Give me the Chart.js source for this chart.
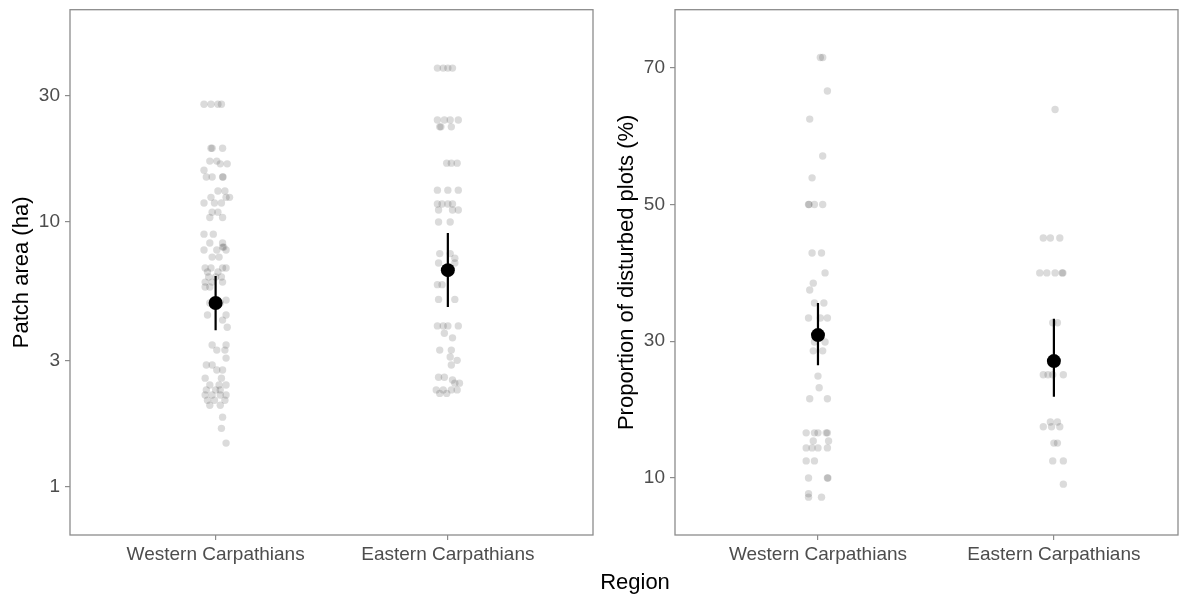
<!DOCTYPE html>
<html>
<head>
<meta charset="utf-8">
<script src="https://cdn.jsdelivr.net/npm/chart.js@4.4.1/dist/chart.umd.min.js"></script>
<style>
  body { margin: 0; background: #fff; width: 1187px; height: 599px; overflow: hidden; position: relative; font-family: "Liberation Sans", Arial, sans-serif; }
  canvas { position: absolute; top: 0; }
  #area { left: 0; }
  #prop { left: 600px; }
  #xlab { position: absolute; left: 635px; top: 569px; transform: translateX(-50%); font-size: 22px; color: #000; }
</style>
</head>
<body>
<canvas id="area" width="600" height="599"></canvas>
<canvas id="prop" width="587" height="599"></canvas>
<div id="xlab">Region</div>
<script>
const regions = ["Western Carpathians", "Eastern Carpathians"];
const areaTicks = [1, 3, 10, 30];
const propTicks = [10, 30, 50, 70];

// single patches: [jitter from category centre, value]
const areaWest = [
  [-0.05, 27.9], [-0.02, 27.9], [0.01, 27.9], [0.025, 27.9],
  [-0.02, 19.0], [-0.015, 19.0], [0.03, 19.0],
  [-0.025, 17.0], [0.005, 17.0], [0.02, 16.6], [0.05, 16.6],
  [-0.05, 15.7],
  [-0.04, 14.8], [-0.015, 14.8], [0.03, 14.8], [0.032, 14.8],
  [0.01, 13.1], [0.04, 13.1],
  [-0.02, 12.4], [0.045, 12.4], [0.06, 12.4],
  [-0.05, 11.8], [-0.005, 11.8], [0.025, 11.8],
  [-0.015, 10.9], [0.01, 10.9],
  [-0.025, 10.4], [0.03, 10.4],
  [-0.05, 9.0], [-0.01, 9.0],
  [-0.025, 8.33], [0.03, 8.33],
  [0.03, 8.04], [0.035, 8.04],
  [-0.05, 7.84], [0.005, 7.84], [0.045, 7.84],
  [-0.015, 7.37], [0.015, 7.37],
  [-0.045, 6.7], [-0.02, 6.7], [0.03, 6.7], [0.045, 6.7],
  [-0.035, 6.47], [0.01, 6.47],
  [-0.03, 6.2], [0.0, 6.2], [0.025, 6.2],
  [-0.045, 5.93], [-0.015, 5.93], [0.03, 5.93],
  [-0.045, 5.68], [-0.025, 5.68],
  [0.045, 5.07], [-0.025, 4.94], [0.02, 4.94],
  [-0.035, 4.45], [0.045, 4.45],
  [0.03, 4.26], [0.05, 4.0],
  [-0.015, 3.43], [0.045, 3.43],
  [0.005, 3.28], [0.04, 3.28],
  [0.045, 3.06],
  [-0.04, 2.88], [-0.015, 2.88],
  [0.005, 2.76], [0.03, 2.76],
  [-0.045, 2.57], [0.025, 2.57],
  [-0.025, 2.42], [0.015, 2.42], [0.045, 2.42],
  [0.0, 2.32], [0.02, 2.32], [-0.04, 2.32],
  [-0.045, 2.22], [-0.015, 2.22], [0.045, 2.22], [0.02, 2.22],
  [-0.035, 2.12], [-0.005, 2.12], [0.04, 2.12],
  [-0.025, 2.03], [0.02, 2.03],
  [0.03, 1.83], [0.025, 1.66], [0.045, 1.46]
];
const areaEast = [
  [-0.045, 38.2], [-0.02, 38.2], [0.0, 38.2], [0.02, 38.2],
  [-0.045, 24.3], [-0.015, 24.3], [0.01, 24.3], [0.045, 24.3],
  [-0.035, 22.9], [-0.03, 22.9], [0.015, 22.9],
  [-0.005, 16.7], [0.015, 16.7], [0.04, 16.7],
  [-0.045, 13.2], [0.0, 13.2], [0.045, 13.2],
  [-0.045, 11.7], [-0.025, 11.7], [0.0, 11.7], [0.02, 11.7],
  [-0.04, 11.1], [0.02, 11.1], [0.045, 11.1],
  [-0.04, 10.0], [0.01, 10.0],
  [-0.035, 7.6], [0.01, 7.6], [0.03, 7.3],
  [-0.04, 7.0], [0.03, 7.0],
  [-0.045, 5.8], [-0.025, 5.8],
  [-0.04, 5.1], [0.03, 5.1],
  [-0.045, 4.05], [-0.02, 4.05], [0.0, 4.05], [0.045, 4.05],
  [-0.015, 3.8], [0.02, 3.65],
  [-0.035, 3.28], [0.015, 3.28],
  [0.01, 3.09], [0.04, 3.0], [0.015, 2.88],
  [-0.04, 2.59], [-0.015, 2.59], [0.02, 2.53],
  [0.03, 2.46], [0.05, 2.46],
  [-0.05, 2.32], [-0.02, 2.32], [0.015, 2.32], [0.04, 2.32],
  [-0.035, 2.25], [-0.005, 2.25]
];
const propWest = [
  [0.01, 71.5], [0.02, 71.5], [0.04, 66.6], [-0.035, 62.5],
  [0.02, 57.1], [-0.025, 53.9],
  [-0.04, 50.0], [-0.038, 50.0], [-0.015, 50.0], [0.02, 50.0],
  [-0.025, 42.9], [0.015, 42.9], [0.03, 40.0],
  [-0.02, 38.5], [-0.035, 37.5],
  [-0.015, 35.6], [0.025, 35.6],
  [-0.04, 33.4], [0.01, 33.4], [0.04, 33.4],
  [-0.015, 29.9], [0.03, 29.9],
  [-0.02, 28.6], [0.02, 28.6],
  [0.0, 24.9], [0.005, 23.2],
  [-0.035, 21.6], [0.04, 21.6],
  [-0.05, 16.6], [-0.015, 16.6], [0.0, 16.6], [0.035, 16.6], [0.04, 16.6],
  [-0.02, 15.4], [0.045, 15.4],
  [-0.05, 14.4], [-0.025, 14.4], [0.0, 14.4], [0.04, 14.4],
  [-0.05, 12.5], [-0.015, 12.5],
  [-0.04, 10.0], [0.04, 10.0], [0.042, 10.0],
  [-0.04, 7.7], [-0.04, 7.2], [0.015, 7.2]
];
const propEast = [
  [0.005, 63.9],
  [-0.045, 45.1], [-0.015, 45.1], [0.025, 45.1],
  [-0.06, 40.0], [-0.03, 40.0], [0.005, 40.0], [0.035, 40.0], [0.038, 40.0],
  [-0.005, 32.7], [0.015, 32.7],
  [-0.045, 25.1], [-0.025, 25.1], [-0.005, 25.1], [0.04, 25.1],
  [-0.015, 18.2], [0.015, 18.2],
  [-0.045, 17.5], [-0.01, 17.5], [0.025, 17.5],
  [0.0, 15.1], [0.015, 15.1],
  [-0.005, 12.5], [0.04, 12.5],
  [0.04, 9.1]
];

// group means with their intervals
const areaMean = [4.94, 6.58];
const areaLo = [3.9, 4.77];
const areaHi = [6.25, 9.09];
const propMean = [30.9, 27.1];
const propLo = [26.5, 21.9];
const propHi = [35.6, 33.3];

const tickGrey = "#4d4d4d";
const frameGrey = "#8c8c8c";

const frame = {
  id: "frame",
  afterDraw(chart) {
    const { ctx, chartArea: a } = chart;
    ctx.save();
    ctx.strokeStyle = frameGrey;
    ctx.lineWidth = 1.3;
    ctx.strokeRect(a.left, a.top, a.right - a.left, a.bottom - a.top);
    ctx.restore();
  }
};

function toPoints(rows, cat) {
  return rows.map(([j, v]) => ({ x: cat + j, y: v }));
}

// scale paddings would push the plot area around; the panel box is fixed here
function noScalePad(s) {
  s.paddingTop = 0; s.paddingBottom = 0; s.paddingLeft = 0; s.paddingRight = 0;
}

function panel(id, p) {
  const datasets = [{
    data: toPoints(p.west, 1).concat(toPoints(p.east, 2)),
    pointRadius: 3.7,
    pointBackgroundColor: "rgba(0,0,0,0.14)",
    pointBorderWidth: 0,
    showLine: false,
    order: 3
  }];
  regions.forEach((r, i) => {
    datasets.push({
      data: [{ x: i + 1, y: p.lo[i] }, { x: i + 1, y: p.hi[i] }],
      showLine: true,
      borderColor: "#000",
      borderWidth: 2.2,
      pointRadius: 0,
      order: 2
    });
  });
  datasets.push({
    data: p.mean.map((m, i) => ({ x: i + 1, y: m })),
    pointRadius: 7,
    pointBackgroundColor: "#000",
    pointBorderWidth: 0,
    showLine: false,
    order: 1
  });

  const tickGrid = { display: true, drawOnChartArea: false, drawTicks: true, tickLength: 5, color: frameGrey, lineWidth: 1.2 };
  const tickFont = { size: 19, family: "Liberation Sans" };

  return new Chart(document.getElementById(id), {
    type: "scatter",
    data: { datasets },
    options: {
      responsive: false,
      animation: false,
      layout: { padding: { top: p.padTop, right: p.padRight, left: 0, bottom: 0 } },
      plugins: { legend: { display: false }, tooltip: { enabled: false } },
      scales: {
        x: {
          type: "linear", min: p.xMin, max: p.xMax,
          afterBuildTicks: (s) => { s.ticks = [{ value: 1 }, { value: 2 }]; },
          afterFit: (s) => { s.height = 64; noScalePad(s); },
          ticks: { callback: (v) => regions[v - 1], color: tickGrey, font: tickFont, padding: 3, autoSkip: false, maxRotation: 0 },
          grid: tickGrid,
          border: { display: false }
        },
        y: {
          type: p.yType, min: p.yMin, max: p.yMax,
          afterBuildTicks: (s) => { s.ticks = p.ticks.map((v) => ({ value: v })); },
          afterFit: (s) => { s.width = p.yWidth; noScalePad(s); },
          ticks: { callback: (v) => String(v), color: tickGrey, font: tickFont, padding: 5 },
          grid: tickGrid,
          border: { display: false },
          title: { display: true, text: p.title, color: "#000", font: { size: 22, family: "Liberation Sans" }, padding: { top: p.titlePad, bottom: 0 } }
        }
      }
    },
    plugins: [frame]
  });
}

panel("area", {
  west: areaWest, east: areaEast, mean: areaMean, lo: areaLo, hi: areaHi,
  xMin: 0.373, xMax: 2.625, yType: "logarithmic", yMin: 0.656, yMax: 63.5,
  ticks: areaTicks, title: "Patch area (ha)", yWidth: 70, padRight: 7, padTop: 9.7, titlePad: 9
});

panel("prop", {
  west: propWest, east: propEast, mean: propMean, lo: propLo, hi: propHi,
  xMin: 0.394, xMax: 2.526, yType: "linear", yMin: 1.66, yMax: 78.5,
  ticks: propTicks, title: "Proportion of disturbed plots (%)", yWidth: 75, padRight: 9, padTop: 9.7, titlePad: 14
});
</script>
</body>
</html>
